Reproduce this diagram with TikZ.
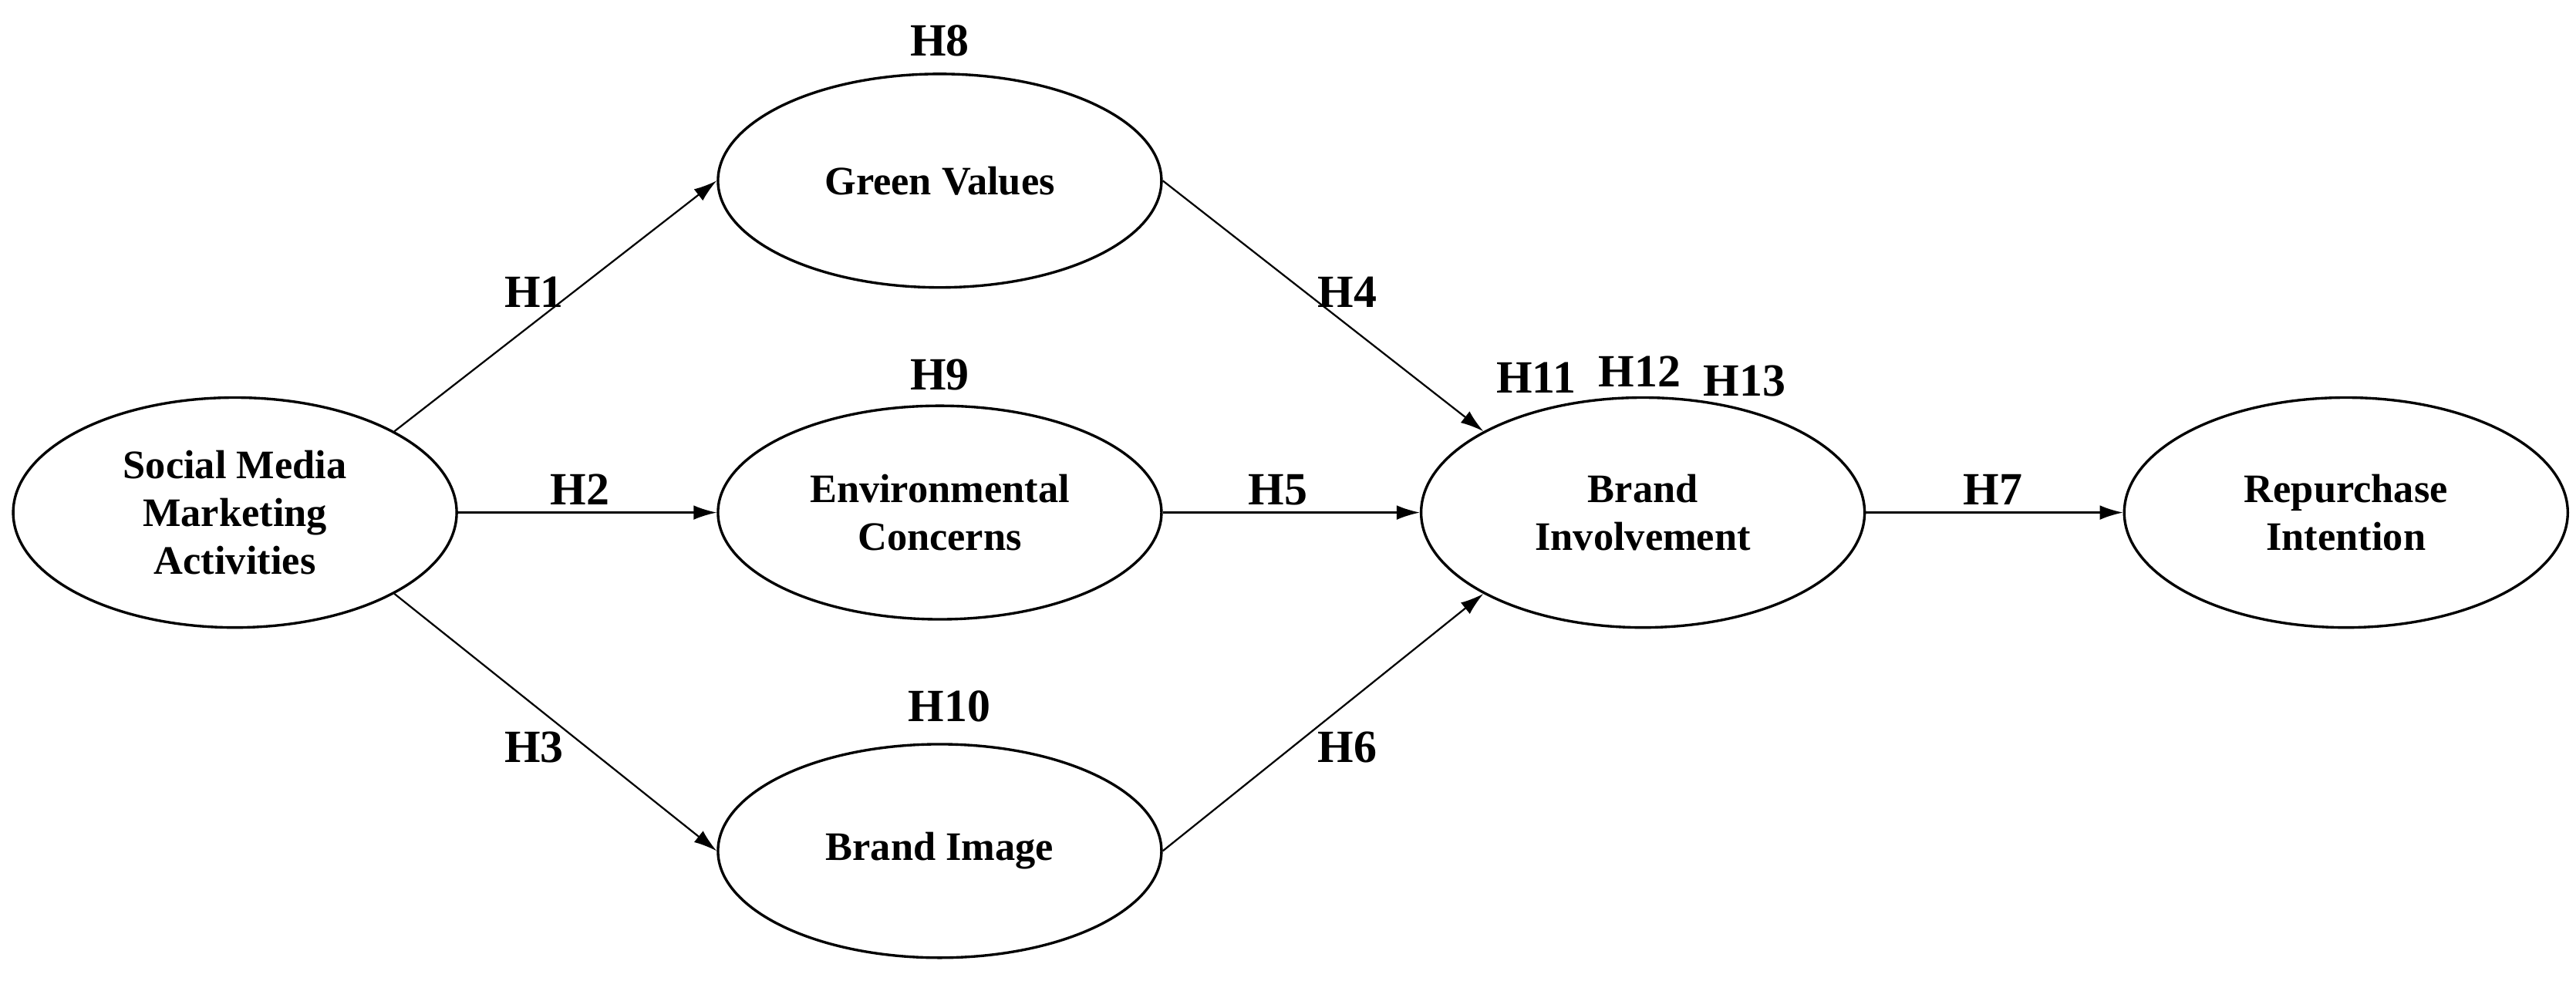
\documentclass[tikz,border=0pt]{standalone}
\usepackage{fontspec}
\setmainfont{Liberation Serif}
\usetikzlibrary{arrows.meta,shapes.geometric}
\begin{document}
\begin{tikzpicture}[x=0.02cm,y=-0.02cm,
  ell/.style={draw,line width=0.9pt,ellipse,minimum width=5.4cm,minimum height=2.6cm,align=center,font=\fontsize{14}{16.5}\selectfont\bfseries},
  big/.style={ell,minimum height=2.8cm},
  lab/.style={font=\fontsize{16}{18}\selectfont\bfseries},
  arr/.style={-{Latex[length=8pt,width=5pt]},line width=0.6pt}]
\useasboundingbox (0,0) rectangle (1568,597);
\node[big] (s) at (143,312) {Social Media\\Marketing\\Activities};
\node[ell] (g) at (572,110) {Green Values};
\node[ell] (e) at (572,312) {Environmental\\Concerns};
\node[ell] (i) at (572,518) {Brand Image};
\node[big] (b) at (1000,312) {Brand\\Involvement};
\node[big] (r) at (1428,312) {Repurchase\\Intention};
\draw[arr] (s.27) -- (g.west);
\draw[arr] (s.east) -- (e.west);
\draw[arr] (s.-27) -- (i.west);
\draw[arr] (g.east) -- (b.153);
\draw[arr] (e.east) -- (b.west);
\draw[arr] (i.east) -- (b.207);
\draw[arr] (b.east) -- (r.west);
\node[lab] (h8) at (572,25) {H8};
\node[lab] (h1) at (325,178) {H1};
\node[lab] (h9) at (572,228) {H9};
\node[lab] (h2) at (353,298) {H2};
\node[lab] (h10) at (578,430) {H10};
\node[lab] (h3) at (325,455) {H3};
\node[lab] (h4) at (820,178) {H4};
\node[lab] (h5) at (778,298) {H5};
\node[lab] (h6) at (820,455) {H6};
\node[lab] (h11) at (935,230) {H11};
\node[lab] (h12) at (998,226) {H12};
\node[lab] (h13) at (1062,232) {H13};
\node[lab] (h7) at (1213,298) {H7};
\end{tikzpicture}
\end{document}
